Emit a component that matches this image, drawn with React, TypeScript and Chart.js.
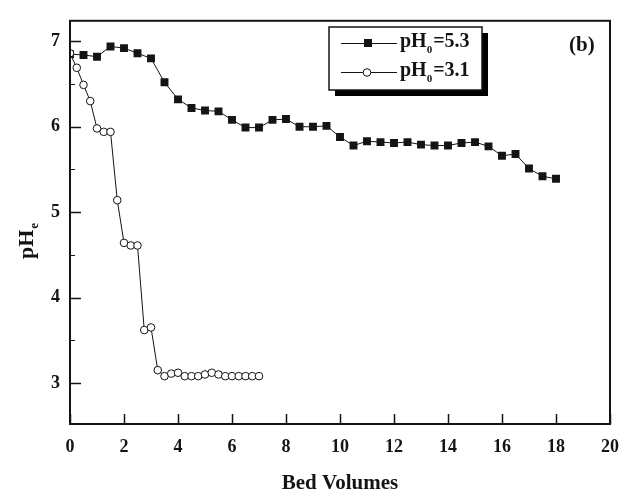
import React, { useEffect, useRef } from "react";
import { Chart, registerables } from "chart.js";

Chart.register(...registerables);

// pH0 = 5.3 series (filled squares)
const bedVolumesA = [0, 0.5, 1, 1.5, 2, 2.5, 3, 3.5, 4, 4.5, 5, 5.5, 6, 6.5, 7, 7.5, 8, 8.5, 9, 9.5, 10, 10.5, 11, 11.5, 12, 12.5, 13, 13.5, 14, 14.5, 15, 15.5, 16, 16.5, 17, 17.5, 18];
const pHeA = [6.85, 6.84, 6.82, 6.94, 6.92, 6.86, 6.8, 6.52, 6.32, 6.22, 6.19, 6.18, 6.08, 5.99, 5.99, 6.08, 6.09, 6.0, 6.0, 6.01, 5.88, 5.78, 5.83, 5.82, 5.81, 5.82, 5.79, 5.78, 5.78, 5.81, 5.82, 5.77, 5.66, 5.68, 5.51, 5.42, 5.39];

// pH0 = 3.1 series (open circles)
const bedVolumesB = [0, 0.25, 0.5, 0.75, 1, 1.25, 1.5, 1.75, 2, 2.25, 2.5, 2.75, 3, 3.25, 3.5, 3.75, 4, 4.25, 4.5, 4.75, 5, 5.25, 5.5, 5.75, 6, 6.25, 6.5, 6.75, 7];
const pHeB = [6.86, 6.69, 6.49, 6.3, 5.98, 5.94, 5.94, 5.14, 4.64, 4.61, 4.61, 3.62, 3.65, 3.15, 3.08, 3.11, 3.12, 3.08, 3.08, 3.08, 3.1, 3.12, 3.1, 3.08, 3.08, 3.08, 3.08, 3.08, 3.08];

const xTicks = [0, 2, 4, 6, 8, 10, 12, 14, 16, 18, 20];
const yTicks = [3, 4, 5, 6, 7];
const yMinorTicks = [3.5, 4.5, 5.5, 6.5];
const legendValues = ["5.3", "3.1"];
const panelLabel = "(b)";
const xTitle = "Bed Volumes";

const FONT = '"Liberation Serif", "Times New Roman", serif';
const INK = "#141414";

const decorPlugin = {
  id: "decor",
  afterDatasetsDraw(chart: any) {
    const { ctx, chartArea, scales } = chart;
    const { left, right, top, bottom } = chartArea;
    const x = scales.x;
    const y = scales.y;
    ctx.save();
    ctx.strokeStyle = INK;
    ctx.lineWidth = 2;
    ctx.strokeRect(left, top, right - left, bottom - top);
    ctx.lineWidth = 1.5;
    ctx.beginPath();
    xTicks.forEach((v) => {
      const px = Math.round(x.getPixelForValue(v)) + 0.5;
      ctx.moveTo(px, bottom);
      ctx.lineTo(px, bottom - 10);
    });
    yTicks.forEach((v) => {
      const py = Math.round(y.getPixelForValue(v)) + 0.5;
      ctx.moveTo(left, py);
      ctx.lineTo(left + 11, py);
    });
    ctx.stroke();
    ctx.lineWidth = 1;
    ctx.beginPath();
    yMinorTicks.forEach((v) => {
      const py = Math.round(y.getPixelForValue(v)) + 0.5;
      ctx.moveTo(left, py);
      ctx.lineTo(left + 5, py);
    });
    ctx.stroke();
    ctx.restore();
  },
  afterDraw(chart: any) {
    const { ctx, chartArea } = chart;
    const { left, right, bottom } = chartArea;
    ctx.save();
    ctx.fillStyle = INK;
    ctx.textBaseline = "alphabetic";

    // x title
    ctx.font = `bold 21px ${FONT}`;
    ctx.textAlign = "center";
    ctx.fillText(xTitle, (left + right) / 2, 489);

    // y title pH_e (rotated)
    ctx.save();
    ctx.translate(33, 259);
    ctx.rotate(-Math.PI / 2);
    ctx.textAlign = "left";
    ctx.font = `bold 22px ${FONT}`;
    ctx.fillText("pH", 0, 0);
    const wpH = ctx.measureText("pH").width;
    ctx.font = `bold 13px ${FONT}`;
    ctx.fillText("e", wpH + 1, 5);
    ctx.restore();

    // panel label
    ctx.font = `bold 21px ${FONT}`;
    ctx.textAlign = "left";
    ctx.fillText(panelLabel, 569, 51);

    // legend box with shadow
    const bx = 329, by = 27, bw = 153, bh = 63;
    ctx.fillStyle = "#000";
    ctx.fillRect(bx + 6, by + 6, bw, bh);
    ctx.fillStyle = "#fff";
    ctx.fillRect(bx, by, bw, bh);
    ctx.strokeStyle = INK;
    ctx.lineWidth = 1.5;
    ctx.strokeRect(bx, by, bw, bh);

    const rows = [43, 72];
    legendValues.forEach((val, i) => {
      const ry = rows[i];
      ctx.strokeStyle = INK;
      ctx.lineWidth = 1;
      ctx.beginPath();
      ctx.moveTo(341, ry + 0.5);
      ctx.lineTo(397, ry + 0.5);
      ctx.stroke();
      if (i === 0) {
        ctx.fillStyle = INK;
        ctx.fillRect(364, ry - 4, 8, 8);
      } else {
        ctx.fillStyle = "#fff";
        ctx.beginPath();
        ctx.arc(367, ry + 0.5, 3.8, 0, Math.PI * 2);
        ctx.fill();
        ctx.stroke();
      }
      ctx.fillStyle = INK;
      ctx.textAlign = "left";
      ctx.font = `bold 20px ${FONT}`;
      const base = ry + 4;
      ctx.fillText("pH", 400, base);
      let cx = 400 + ctx.measureText("pH").width;
      ctx.font = `bold 11px ${FONT}`;
      ctx.fillText("0", cx, base + 6);
      cx += ctx.measureText("0").width + 1;
      ctx.font = `bold 20px ${FONT}`;
      ctx.fillText("=" + val, cx, base);
    });
    ctx.restore();
  },
};

export default function App() {
  const canvasRef = useRef<HTMLCanvasElement | null>(null);

  useEffect(() => {
    const canvas = canvasRef.current;
    if (!canvas) return;
    const chart = new Chart(canvas, {
      type: "scatter",
      data: {
        datasets: [
          {
            label: "pH0=3.1",
            data: bedVolumesB.map((v, i) => ({ x: v, y: pHeB[i] })),
            showLine: true,
            borderColor: INK,
            borderWidth: 1,
            backgroundColor: "#fff",
            pointStyle: "circle",
            pointRadius: 3.8,
            pointBorderWidth: 1,
            pointBorderColor: INK,
            pointBackgroundColor: "#fff",
            clip: 1,
          },
          {
            label: "pH0=5.3",
            data: bedVolumesA.map((v, i) => ({ x: v, y: pHeA[i] })),
            showLine: true,
            borderColor: INK,
            borderWidth: 1,
            backgroundColor: INK,
            pointStyle: "rect",
            pointRadius: 5.6,
            pointBorderWidth: 0,
            pointBackgroundColor: INK,
            clip: 1,
          },
        ],
      },
      options: {
        responsive: false,
        animation: false,
        events: [],
        layout: { padding: { top: 13, right: 10, left: 0, bottom: 0 } },
        plugins: {
          legend: { display: false },
          tooltip: { enabled: false },
        },
        scales: {
          x: {
            type: "linear",
            min: 0,
            max: 20,
            afterFit: (scale: any) => {
              scale.height = 68;
            },
            afterBuildTicks: (scale: any) => {
              scale.ticks = xTicks.map((v) => ({ value: v }));
            },
            grid: { display: false, drawTicks: false },
            border: { display: false },
            ticks: {
              padding: 13,
              color: INK,
              font: { family: FONT, size: 18, weight: "bold" },
              maxRotation: 0,
            },
          },
          y: {
            type: "linear",
            min: 2.52,
            max: 7.24,
            afterFit: (scale: any) => {
              scale.width = 70;
            },
            afterBuildTicks: (scale: any) => {
              scale.ticks = yTicks.map((v) => ({ value: v }));
            },
            grid: { display: false, drawTicks: false },
            border: { display: false },
            ticks: {
              padding: 10,
              color: INK,
              font: { family: FONT, size: 18, weight: "bold" },
            },
          },
        },
      },
      plugins: [decorPlugin],
    } as any);
    return () => chart.destroy();
  }, []);

  return (
    <div style={{ position: "fixed", left: 0, top: 0, width: 632, height: 492, background: "#fff" }}>
      <canvas ref={canvasRef} width={632} height={492} style={{ display: "block", width: 632, height: 492 }} />
    </div>
  );
}
